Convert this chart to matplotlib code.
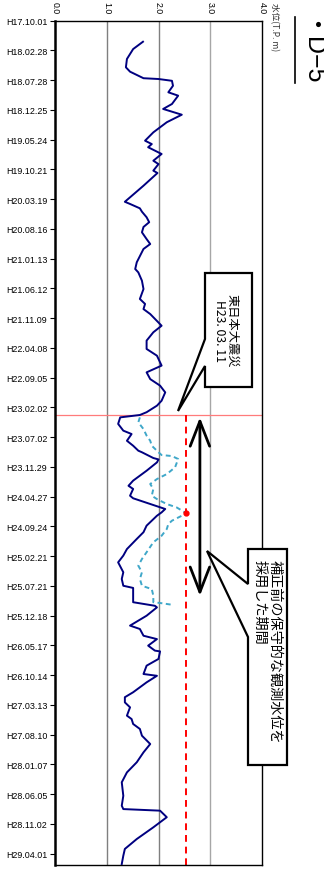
import numpy as np
import matplotlib
matplotlib.use('Agg')
import matplotlib.pyplot as plt
from matplotlib.patches import Polygon
from matplotlib.lines import Line2D

# ---------------- data (days since H17.10.01, water level T.P. m) ----------------
tick_labels = ["H17.10.01", "H18.02.28", "H18.07.28", "H18.12.25", "H19.05.24", "H19.10.21",
               "H20.03.19", "H20.08.16", "H21.01.13", "H21.06.12", "H21.11.09", "H22.04.08",
               "H22.09.05", "H23.02.02", "H23.07.02", "H23.11.29", "H24.04.27", "H24.09.24",
               "H25.02.21", "H25.07.21", "H25.12.18", "H26.05.17", "H26.10.14", "H27.03.13",
               "H27.08.10", "H28.01.07", "H28.06.05", "H28.11.02", "H29.04.01"]
tick_step_days = 150
level_ticks = [0.0, 1.0, 2.0, 3.0, 4.0]

obs_day = [106, 143, 193, 235, 257, 290, 294, 303, 328, 361,
           378, 420, 445, 474, 512, 563, 605, 622, 638, 672,
           706, 723, 756, 768, 832, 913, 924, 946, 963, 991,
           1016, 1040, 1067, 1101, 1126, 1151, 1218, 1252, 1269, 1311,
           1353, 1403, 1428, 1454, 1479, 1495, 1538, 1571, 1613, 1655,
           1689, 1739, 1773, 1807, 1840, 1874, 1916, 1941, 1974, 1988,
           2000, 2033, 2067, 2084, 2118, 2143, 2168, 2176, 2205, 2212,
           2227, 2269, 2319, 2345, 2361, 2395, 2408, 2428, 2445, 2462,
           2479, 2496, 2546, 2579, 2613, 2664, 2697, 2731, 2781, 2815,
           2849, 2860, 2932, 2950, 2958, 3000, 3050, 3067, 3101, 3118,
           3151, 3176, 3180, 3218, 3252, 3294, 3303, 3336, 3386, 3411,
           3437, 3462, 3504, 3521, 3546, 3571, 3605, 3647, 3689, 3739,
           3790, 3840, 3908, 3958, 3975, 3983, 4016, 4067, 4126, 4176,
           4210, 4252]
obs_level = [1.70, 1.51, 1.39, 1.37, 1.45, 1.71, 2.00, 2.26, 2.28, 2.19,
             2.38, 2.26, 2.09, 2.45, 2.16, 1.90, 1.74, 1.87, 1.80, 2.06,
             1.90, 2.00, 1.90, 1.98, 1.71, 1.35, 1.45, 1.64, 1.68, 1.77,
             1.82, 1.71, 1.68, 1.77, 1.84, 1.71, 1.58, 1.55, 1.61, 1.68,
             1.71, 1.64, 1.74, 1.71, 1.84, 1.90, 2.06, 1.90, 1.77, 1.77,
             1.97, 2.06, 1.77, 1.84, 2.03, 2.13, 2.06, 1.97, 1.77, 1.64,
             1.26, 1.22, 1.32, 1.48, 1.39, 1.51, 1.61, 1.68, 1.90, 2.00,
             1.97, 1.77, 1.51, 1.42, 1.51, 1.45, 1.51, 1.74, 1.93, 2.13,
             2.06, 1.97, 1.77, 1.71, 1.58, 1.39, 1.32, 1.22, 1.32, 1.29,
             1.32, 1.51, 1.51, 1.93, 1.97, 1.77, 1.45, 1.64, 1.71, 1.97,
             1.80, 1.93, 2.03, 2.00, 1.77, 1.71, 1.97, 1.77, 1.51, 1.35,
             1.35, 1.45, 1.39, 1.48, 1.51, 1.64, 1.68, 1.84, 1.71, 1.58,
             1.39, 1.29, 1.32, 1.29, 1.32, 2.03, 2.16, 1.90, 1.58, 1.35,
             1.32, 1.29]

pre_day = [2000, 2025, 2059, 2092, 2118, 2143, 2176, 2190, 2195, 2210,
           2252, 2286, 2311, 2336, 2361, 2395, 2412, 2437, 2454, 2482,
           2496, 2521, 2538, 2563, 2597, 2630, 2680, 2714, 2748, 2781,
           2815, 2849, 2866, 2899, 2932, 2937, 2946]
pre_level = [1.64, 1.61, 1.71, 1.77, 1.84, 1.87, 2.00, 2.06, 2.26, 2.38,
             2.32, 2.16, 1.97, 1.84, 1.90, 1.87, 1.97, 2.16, 2.35, 2.53,
             2.45, 2.26, 2.19, 2.16, 2.06, 1.90, 1.77, 1.68, 1.61, 1.68,
             1.64, 1.68, 1.87, 1.90, 1.90, 2.06, 2.29]

quake_day = 1987          # H23.03.11
period_start, period_end = 2000, 2900
period_level = 2.8

title = "・D−5"
unit_label = "水位(T.P. m)"
note1 = "東日本大震災\nH23. 03. 11"
note2 = "補正前の保守的な観測水位を\n採用した期間"

# ---------------- figure ----------------
plt.rcParams['font.family'] = ['Liberation Sans', 'Noto Sans CJK JP', 'DejaVu Sans']
W, H = 324, 878
fig = plt.figure(figsize=(W / 100, H / 100), dpi=100)
fig.patch.set_facecolor('white')


def P(px, py):
    return (px / W, 1 - py / H)


top_px, bot_px = 21.7, 866
ax = fig.add_axes([55 / W, 1 - bot_px / H, 207 / W, (bot_px - top_px) / H])
days_per_px = tick_step_days / 29.75
ax.set_xlim(0, 4)
ax.set_ylim((bot_px - top_px) * days_per_px, 0)

tick_days = np.arange(len(tick_labels)) * tick_step_days
ax.set_yticks(tick_days)
ax.set_yticklabels(tick_labels, fontsize=6.4)
ax.xaxis.tick_top()
ax.set_xticks(level_ticks)
ax.set_xticklabels([f"{v:.1f}" for v in level_ticks], rotation=-90, fontsize=6.3)
ax.tick_params(axis='x', length=0, pad=5.5)
ax.tick_params(axis='y', length=3.5, width=0.8, pad=2, direction='out')

for v, c in zip(level_ticks[1:4], ['#7f7f7f', '#7f7f7f', '#a6a6a6']):
    ax.axvline(v, color=c, lw=1.0, zorder=1)

for s in ['top', 'right', 'bottom']:
    ax.spines[s].set_linewidth(1.0)
    ax.spines[s].set_color('black')
ax.spines['left'].set_linewidth(1.8)

ax.axhline(quake_day, color='#ff7b7b', lw=0.9, zorder=2)

ax.plot(obs_level, obs_day, color='#000080', lw=1.4, zorder=4)
ax.plot(pre_level, pre_day, color='#3fa7c9', lw=1.4, ls=(0, (2.5, 1.8)), zorder=3)

conservative = max(pre_level)
peak_day = pre_day[int(np.argmax(pre_level))]
ax.vlines(conservative, quake_day, ax.get_ylim()[0], colors='#ff0000', lw=1.4,
          linestyles=(0, (3.5, 2.5)), zorder=2)
ax.plot([conservative], [peak_day], 'o', color='#ff0000', ms=3.5, zorder=5)

ax.annotate('', xy=(period_level, period_start), xytext=(period_level, period_end),
            arrowprops=dict(arrowstyle='<->,head_length=0.9,head_width=0.35',
                            lw=2.0, color='black', mutation_scale=20,
                            shrinkA=0, shrinkB=0), zorder=6)

# callout 1
poly1 = [P(205, 274), P(252, 274), P(252, 388), P(205, 388), P(205, 367), P(178, 412), P(205, 340)]
fig.add_artist(Polygon(poly1, closed=True, transform=fig.transFigure, facecolor='white',
                       edgecolor='black', lw=1.6, zorder=10))
fig.text(*P(226, 331), note1, rotation=-90, rotation_mode='anchor', ha='center', va='center',
         multialignment='center', fontsize=8.8, linespacing=1.0,
         family=['Noto Sans CJK JP', 'DejaVu Sans'], zorder=11)

# callout 2
poly2 = [P(248, 550), P(287, 550), P(287, 766), P(248, 766), P(248, 638), P(207, 552), P(248, 585)]
fig.add_artist(Polygon(poly2, closed=True, transform=fig.transFigure, facecolor='white',
                       edgecolor='black', lw=1.6, zorder=10))
fig.text(*P(267.5, 652), note2, rotation=-90, rotation_mode='anchor', ha='center', va='center',
         multialignment='left', fontsize=10.2, linespacing=1.15,
         family=['Noto Sans CJK JP', 'DejaVu Sans'], zorder=11)

# unit label and title
fig.text(*P(274, 3), unit_label, rotation=-90, rotation_mode='anchor', ha='left', va='center',
         fontsize=6.2, color='#333333', family=['Noto Sans CJK JP', 'DejaVu Sans'])
fig.text(*P(298, 20), title, rotation=-90, rotation_mode='anchor', ha='left', va='baseline',
         fontsize=18, family=['Liberation Sans', 'Noto Sans CJK JP'])
fig.add_artist(Line2D([295 / W, 295 / W], [1 - 18 / H, 1 - 84 / H], transform=fig.transFigure,
                      color='black', lw=1.2))

fig.savefig('out.png', dpi=100)
